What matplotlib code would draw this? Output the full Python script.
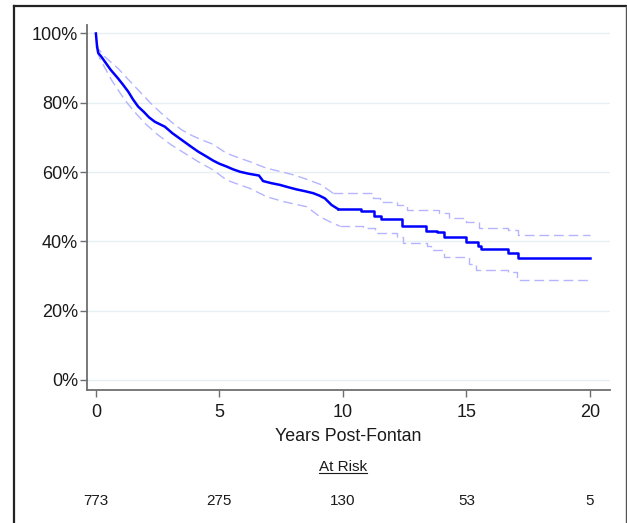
"""
Kaplan-Meier style survival curve post-Fontan with at-risk table.
"""

import matplotlib
matplotlib.use("Agg")
import matplotlib.pyplot as plt
import matplotlib.transforms as mtransforms
from matplotlib.lines import Line2D

plt.rcParams["font.family"] = ["Liberation Sans", "DejaVu Sans"]

# survival estimate (years, %): dense early part, then visible steps
km_t = [0, 0.05, 0.1, 0.2, 0.36, 0.6, 0.9, 1.1, 1.31, 1.5, 1.71, 1.95, 2.15,
        2.39, 2.79, 3.1, 3.47, 3.8, 4.14, 4.45, 4.75, 5.0, 5.29, 5.55, 5.83,
        6.2, 6.6, 6.77, 7.1, 7.45, 7.8, 8.12, 8.45, 8.8, 9.05, 9.27, 9.54,
        9.81]
km_s = [100, 96, 94.3, 93.5, 91.9, 89.5, 87.0, 85.2, 83.2, 81.0, 78.9, 77.3,
        75.8, 74.5, 73.1, 71.2, 69.3, 67.6, 65.9, 64.6, 63.3, 62.4, 61.6, 60.8,
        60.1, 59.5, 59.0, 57.4, 56.8, 56.3, 55.6, 55.0, 54.5, 53.9, 53.2, 52.4,
        50.5, 49.3]
km_step_t = [9.81, 10.72, 11.25, 11.55, 12.4, 13.35, 13.8, 14.1, 15.0, 15.45,
             15.6, 16.67, 17.07, 20.0]
km_step_s = [49.3, 48.9, 47.3, 46.6, 44.3, 43.0, 42.6, 41.4, 39.7, 38.8,
             37.8, 36.7, 35.1, 35.1]

# upper confidence bound
up_t = [0.05, 0.1, 0.36, 0.9, 1.3, 1.71, 2.2, 2.66, 3.05, 3.47, 3.9, 4.28,
        4.75, 5.29, 5.75, 6.23, 6.91, 7.45, 7.99, 8.5, 9.1, 9.6]
up_s = [97, 95.5, 93.3, 89.9, 86.8, 83.7, 80.0, 76.9, 74.5, 72.2, 70.5, 69.3,
        68.0, 65.4, 64.2, 63.0, 61.1, 60.2, 59.2, 58.0, 56.4, 53.9]
up_step_t = [9.6, 11.2, 11.5, 12.2, 12.6, 13.9, 14.3, 15.0, 15.5, 16.7, 17.1,
             20.0]
up_step_s = [53.9, 52.4, 51.5, 50.5, 49.1, 48.3, 46.8, 45.5, 43.8, 43.3, 41.8,
             41.8]

# lower confidence bound
lo_t = [0.05, 0.16, 0.63, 1.17, 1.55, 1.98, 2.5, 3.06, 3.6, 4.14, 4.75, 5.29,
        5.75, 6.23, 6.91, 7.58, 8.53, 9.07, 9.6, 9.88]
lo_s = [95, 92.8, 86.6, 80.8, 77.5, 74.1, 70.8, 67.8, 65.4, 63.0, 60.6, 57.7,
        56.5, 55.3, 52.9, 51.5, 50.0, 47.1, 45.2, 44.4]
lo_step_t = [9.88, 10.8, 11.3, 12.2, 12.44, 13.4, 13.55, 14.1, 15.1, 15.4,
             16.7, 17.03, 20.0]
lo_step_s = [44.4, 43.8, 42.3, 41.4, 39.4, 38.6, 37.5, 35.5, 33.5, 31.7,
             31.3, 28.9, 28.9]

x_ticks = [0, 5, 10, 15, 20]
y_ticks = [0, 20, 40, 60, 80, 100]
at_risk = [773, 275, 130, 53, 5]

W, H = 627, 523
fig = plt.figure(figsize=(W / 100, H / 100), dpi=100)
ax = fig.add_axes([87 / W, 1 - 390 / H, (610 - 87) / W, (390 - 25) / H])

grey = "#6e6e6e"
ci_kw = dict(color="#b4b4ff", lw=1.0, dashes=(7, 3.5))
ax.plot(up_t, up_s, **ci_kw)
ax.plot(up_step_t, up_step_s, drawstyle="steps-post", **ci_kw)
ax.plot(lo_t, lo_s, **ci_kw)
ax.plot(lo_step_t, lo_step_s, drawstyle="steps-post", **ci_kw)
ax.plot(km_t, km_s, color="#0000ff", lw=1.8, solid_joinstyle="miter")
ax.plot(km_step_t, km_step_s, drawstyle="steps-post", color="#0000ff", lw=1.8)

ax.set_xlim(-0.36, 20.81)
ax.set_ylim(-2.9, 102.45)
ax.set_xticks(x_ticks)
ax.set_yticks(y_ticks)
ax.set_yticklabels([f"{v}%" for v in y_ticks])
for v in y_ticks:
    ax.axhline(v, color="#e6eff1", lw=1.0, zorder=0)

for side in ["top", "right"]:
    ax.spines[side].set_visible(False)
for side in ["left", "bottom"]:
    ax.spines[side].set_color(grey)
    ax.spines[side].set_linewidth(1.3)
ax.tick_params(axis="both", colors=grey, labelcolor="#1a1a1a", labelsize=13,
               length=5, width=1.0)
ax.tick_params(axis="y", pad=1.5)
ax.tick_params(axis="x", pad=5)
ax.set_xlabel("Years Post-Fontan", fontsize=12.8, color="#1a1a1a", labelpad=5)

# at-risk table
trans = mtransforms.blended_transform_factory(ax.transData, fig.transFigure)
for t, n in zip(x_ticks, at_risk):
    fig.text(t, 1 - 501 / H, str(n), transform=trans, ha="center",
             va="center", fontsize=11, color="#1a1a1a")
hdr = fig.text(10, 1 - 467 / H, "At Risk", transform=trans, ha="center",
               va="center", fontsize=11, color="#1a1a1a")
fig.canvas.draw()
bb = hdr.get_window_extent().transformed(fig.transFigure.inverted())
fig.add_artist(Line2D([bb.x0, bb.x1], [bb.y0 + 0.002, bb.y0 + 0.002],
                      transform=fig.transFigure, color="#1a1a1a", lw=0.8))

# outer frame
fig.add_artist(Line2D([14 / W, 14 / W], [-0.01, 1 - 6 / H],
                      transform=fig.transFigure, color="#222222", lw=1.6))
fig.add_artist(Line2D([14 / W, 625.5 / W], [1 - 6 / H, 1 - 6 / H],
                      transform=fig.transFigure, color="#222222", lw=1.6))
fig.add_artist(Line2D([625.5 / W, 625.5 / W], [-0.01, 1 - 6 / H],
                      transform=fig.transFigure, color="#555555", lw=1.0))

fig.savefig("out.png", dpi=100)
